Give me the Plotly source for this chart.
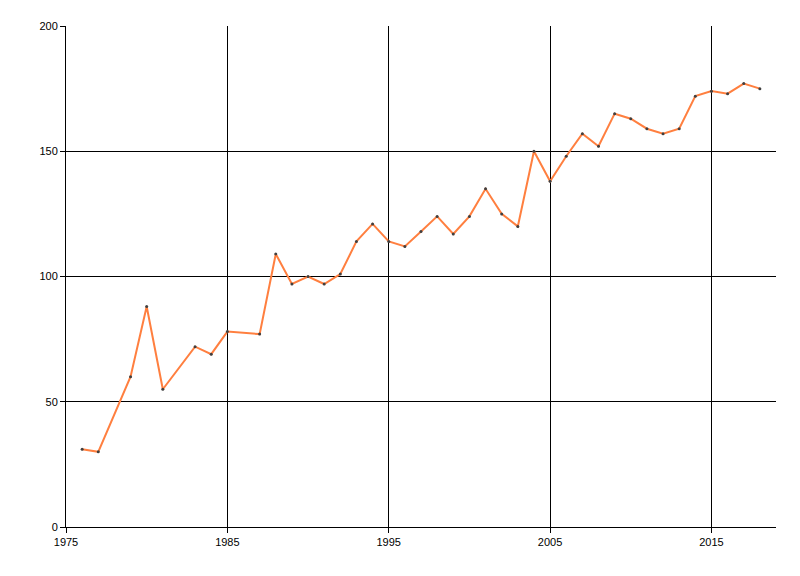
import plotly.graph_objects as go

# values
years = [1976, 1977, 1979, 1980, 1981, 1983, 1984, 1985, 1987, 1988, 1989, 1990,
         1991, 1992, 1993, 1994, 1995, 1996, 1997, 1998, 1999, 2000, 2001, 2002,
         2003, 2004, 2005, 2006, 2007, 2008, 2009, 2010, 2011, 2012, 2013, 2014,
         2015, 2016, 2017, 2018]
values = [31, 30, 60, 88, 55, 72, 69, 78, 77, 109, 97, 100,
          97, 101, 114, 121, 114, 112, 118, 124, 117, 124, 135, 125,
          120, 150, 138, 148, 157, 152, 165, 163, 159, 157, 159, 172,
          174, 173, 177, 175]

x_ticks = [1975, 1985, 1995, 2005, 2015]
y_ticks = [0, 50, 100, 150, 200]

fig = go.Figure()
fig.add_trace(
    go.Scatter(
        x=years,
        y=values,
        mode="lines+markers",
        line=dict(color="#FF7F3F", width=2),
        marker=dict(size=3, color="#404040"),
        showlegend=False,
        hoverinfo="x+y",
    )
)

axis_common = dict(
    showgrid=True,
    gridcolor="black",
    gridwidth=1,
    showline=True,
    linecolor="black",
    linewidth=1,
    mirror=False,
    ticks="outside",
    ticklen=5,
    tickcolor="black",
    zeroline=False,
    tickfont=dict(family="Liberation Sans, Arial, sans-serif", size=11, color="black"),
)

# page body has an 8px margin, so the figure is a bit smaller than the window
fig.update_layout(
    width=784,
    height=560,
    margin=dict(l=58, r=16, t=18, b=41),
    plot_bgcolor="white",
    paper_bgcolor="white",
    xaxis=dict(range=[1975, 2019], tickvals=x_ticks, **axis_common),
    yaxis=dict(range=[0, 200], tickvals=y_ticks, **axis_common),
)

fig.write_html("out.html", config={"displayModeBar": False})
